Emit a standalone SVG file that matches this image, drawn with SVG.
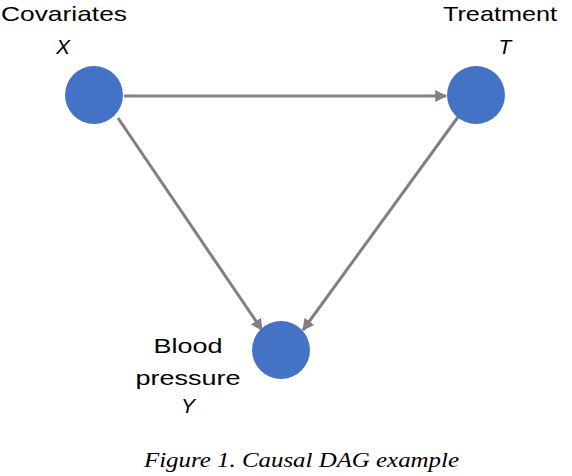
<svg xmlns="http://www.w3.org/2000/svg" width="572" height="476" viewBox="0 0 572 476">
<style>
.node{fill:#4472c4}
.lbl{font-family:"Liberation Sans",Arial,sans-serif;font-size:21px;fill:#000}
.var{font-family:"Liberation Sans",Arial,sans-serif;font-size:21px;font-style:italic;fill:#000}
.edge{stroke:#808080;stroke-width:3;fill:none;marker-end:url(#ah)}
.cap{font-family:"Liberation Serif",serif;font-size:21px;font-style:italic;fill:#000}
</style>
<defs>
<marker id="ah" viewBox="0 0 10 10" refX="9" refY="5" markerWidth="4" markerHeight="4" orient="auto" markerUnits="strokeWidth">
<path d="M0,0 L10,5 L0,10 z" fill="#808080"/>
</marker>
</defs>
<rect width="572" height="476" fill="#fff"/>
<g id="connectors">
<line class="edge" x1="124" y1="96" x2="446" y2="96"/>
<line class="edge" x1="118" y1="118" x2="262" y2="330"/>
<line class="edge" x1="458" y1="117" x2="303" y2="330"/>
</g>
<g id="nodeX">
<circle class="node" cx="94" cy="95" r="29"/>
<text class="lbl" x="1" y="21" textLength="126" lengthAdjust="spacingAndGlyphs">Covariates</text>
<text class="var" x="63" y="54" text-anchor="middle">X</text>
</g>
<g id="nodeT">
<circle class="node" cx="476" cy="95" r="29"/>
<text class="lbl" x="443" y="21" textLength="114" lengthAdjust="spacingAndGlyphs">Treatment</text>
<text class="var" x="505" y="54" text-anchor="middle">T</text>
</g>
<g id="nodeY">
<circle class="node" cx="281" cy="350" r="29"/>
<text class="lbl" x="188" y="353" text-anchor="middle" textLength="69" lengthAdjust="spacingAndGlyphs">Blood</text>
<text class="lbl" x="188" y="385" text-anchor="middle" textLength="105" lengthAdjust="spacingAndGlyphs">pressure</text>
<text class="var" x="188" y="413" text-anchor="middle">Y</text>
</g>
<text class="cap" x="144" y="467" textLength="315" lengthAdjust="spacingAndGlyphs">Figure 1. Causal DAG example</text>
</svg>
